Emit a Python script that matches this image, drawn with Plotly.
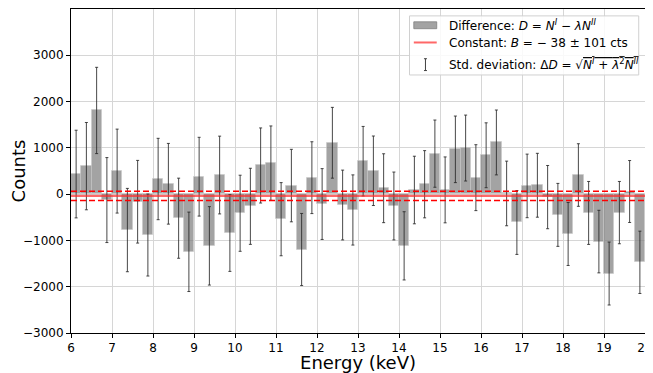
import plotly.graph_objects as go

# ---- data ----
bin_width = 0.25
bin_starts = [6 + i * bin_width for i in range(56)]
differences = [434, 605, 1808, -128, 498, -776, -164, -883, 327, 224,
               -520, -1246, 377, -1117, 413, -840, -413, -263, 619, 669,
               -541, 185, -1196, 356, -214, 1110, -235, -342, 712, 505,
               128, -256, -1117, 89, 214, 875, 92, 968, 996, 356,
               840, 1117, 15, -612, 178, 192, -64, -448, -861, 413,
               -406, -1025, -1715, -399, 57, -1473]
std_dev = [947, 943, 932, 918, 907, 900, 893, 886, 879, 872,
           865, 858, 851, 847, 840, 829, 822, 822, 811, 804,
           790, 783, 779, 776, 765, 765, 754, 758, 751, 751,
           744, 733, 737, 730, 726, 726, 712, 719, 712, 712,
           701, 701, 698, 690, 687, 690, 683, 680, 680, 676,
           680, 676, 680, 673, 669, 673]
const_B = -38
const_err = 101
x_range = [6, 20]
x_ticks = list(range(6, 21))
y_ticks = [-3000, -2000, -1000, 0, 1000, 2000, 3000]

centers = [s + bin_width / 2 for s in bin_starts]

fig = go.Figure()
fig.add_trace(go.Bar(
    x=centers, y=differences, width=bin_width,
    marker=dict(color="rgba(128,128,128,0.72)",
                line=dict(color="rgba(200,200,200,0.6)", width=1)),
    error_y=dict(type="data", array=std_dev, visible=True,
                 color="rgba(40,40,40,0.85)", thickness=1, width=1.5),
    showlegend=False,
))
fig.add_trace(go.Scatter(
    x=x_range, y=[const_B, const_B], mode="lines",
    line=dict(color="rgba(255,40,40,0.7)", width=2.2), showlegend=False))
for v in (const_B + const_err, const_B - const_err):
    fig.add_trace(go.Scatter(
        x=x_range, y=[v, v], mode="lines",
        line=dict(color="red", width=1.5, dash="6px,3px"), showlegend=False))

# ---- page geometry (the page body has an 8px margin) ----
OFF = 8
W, H = 653 - OFF, 373 - OFF
L, R, T, B = 71, 647, 8, 337          # plot area in window pixels
def px(x):
    return (x - L) / (R - L)
def py(y):
    return (B - y) / (B - T)

shapes = []
shapes.append(dict(type="rect", xref="paper", yref="paper",
                   x0=px(410.7), x1=px(640.7), y0=py(75), y1=py(15),
                   line=dict(color="#d0d0d0", width=1),
                   fillcolor="rgba(255,255,255,0.85)", layer="above"))
shapes.append(dict(type="rect", xref="paper", yref="paper",
                   x0=px(415), x1=px(438), y0=py(28), y1=py(21),
                   line=dict(color="rgba(128,128,128,0.8)", width=1),
                   fillcolor="rgba(128,128,128,0.72)", layer="above"))
shapes.append(dict(type="line", xref="paper", yref="paper",
                   x0=px(415), x1=px(438), y0=py(42), y1=py(42),
                   line=dict(color="rgba(255,40,40,0.7)", width=2), layer="above"))
shapes.append(dict(type="line", xref="paper", yref="paper",
                   x0=px(426.7), x1=px(426.7), y0=py(58.5), y1=py(70.5),
                   line=dict(color="#404040", width=1), layer="above"))
for yy in (58.5, 70.5):
    shapes.append(dict(type="line", xref="paper", yref="paper",
                       x0=px(425.2), x1=px(428.2), y0=py(yy), y1=py(yy),
                       line=dict(color="#404040", width=1), layer="above"))

leg_font = dict(family="DejaVu Sans", size=12, color="black")
labels = [
    ("Difference: <i>D</i> = <i>N</i><sup><i>I</i></sup> − <i>λN</i><sup><i>II</i></sup>", 24.3),
    ("Constant: <i>B</i> = − 38 ± 101 cts", 42.3),
    ("Std. deviation: Δ<i>D</i> = √<span style='text-decoration:overline'><i>N</i><sup><i>I</i></sup> + <i>λ</i><sup>2</sup><i>N</i><sup><i>II</i></sup></span>", 64),
]
annotations = []
for text, yy in labels:
    annotations.append(dict(text=text, xref="paper", yref="paper",
                            x=px(448), y=py(yy), xanchor="left", yanchor="middle",
                            showarrow=False, font=leg_font))

fig.update_layout(
    width=W, height=H,
    margin=dict(l=L - OFF, r=653 - R, t=T - OFF, b=373 - B),
    paper_bgcolor="white", plot_bgcolor="white",
    font=dict(family="DejaVu Sans", size=12, color="black"),
    bargap=0,
    shapes=shapes, annotations=annotations,
    xaxis=dict(range=x_range, tickvals=x_ticks, ticks="outside", ticklen=4,
               tickcolor="black", showline=True, linecolor="black", linewidth=1,
               mirror=True, showgrid=True, gridcolor="#d6d6d6", gridwidth=1,
               zeroline=False, tickfont=dict(size=12), ticklabeloverflow="allow",
               title=dict(text="Energy (keV)", font=dict(size=18), standoff=5)),
    yaxis=dict(range=[-3000, 4000], tickvals=y_ticks, ticks="outside", ticklen=4,
               tickcolor="black", showline=True, linecolor="black", linewidth=1,
               mirror=True, showgrid=True, gridcolor="#d6d6d6", gridwidth=1,
               zeroline=False, tickfont=dict(size=12),
               title=dict(text="Counts", font=dict(size=18), standoff=0)),
)

fig.write_html("out.html")
